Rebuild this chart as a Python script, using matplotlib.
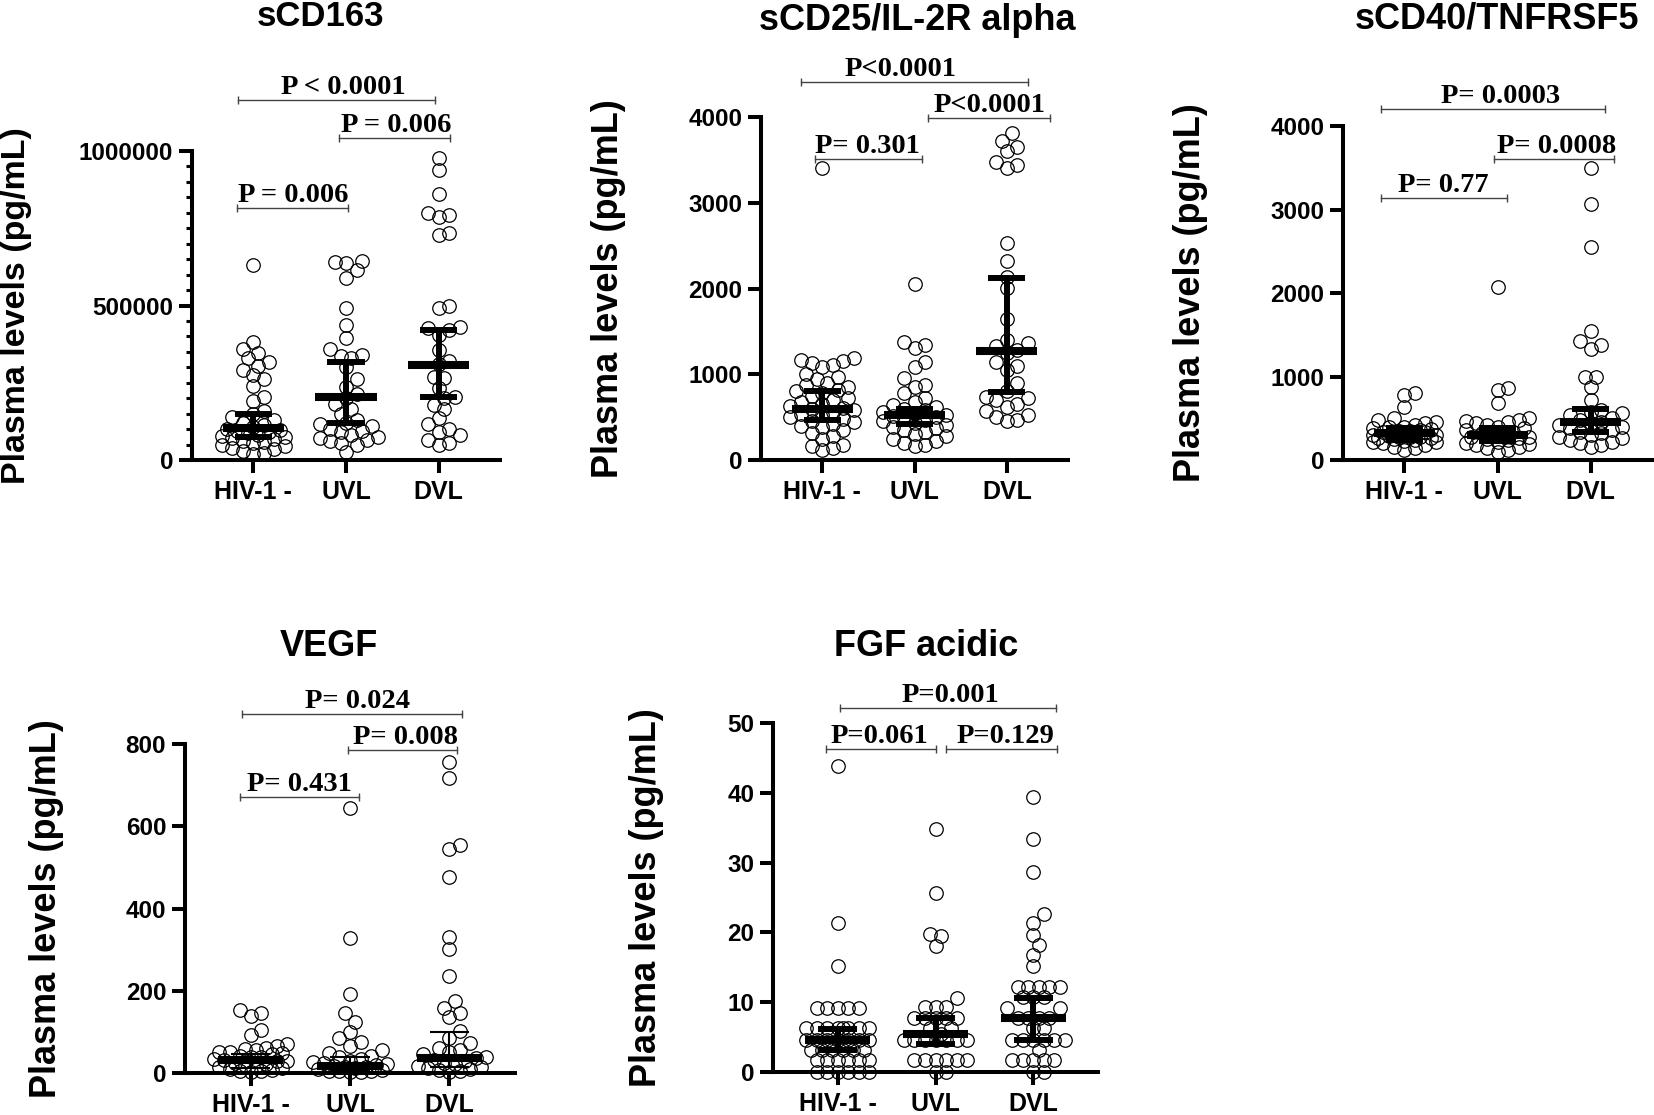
import numpy as np
import matplotlib
matplotlib.use('Agg')
import matplotlib.pyplot as plt

plt.rcParams['font.family'] = ['Liberation Sans', 'DejaVu Sans']

groups = ['HIV-1 -', 'UVL', 'DVL']

# ---- sCD163 ----
scd163_hiv = [631000, 382000, 360000, 345000, 330000, 318000, 305000, 290000, 275000, 262000,
              240000, 205000, 192000, 160000, 148000, 138000, 128000, 120000, 112000, 106000,
              101000, 97000, 93000, 90000, 86000, 82000, 79000, 75000, 71000, 67000, 63000,
              58000, 54000, 50000, 45000, 40000, 35000, 28000, 22000, 18000]
scd163_uvl = [645000, 640000, 636000, 615000, 590000, 492000, 437000, 395000, 360000, 340000,
              335000, 330000, 300000, 262000, 236000, 215000, 200000, 180000, 165000, 150000,
              130000, 120000, 115000, 110000, 100000, 95000, 90000, 82000, 75000, 70000, 65000,
              60000, 55000, 48000, 25000]
scd163_dvl = [977000, 939000, 861000, 800000, 793000, 787000, 735000, 728000, 500000, 492000,
              430000, 427000, 420000, 405000, 356000, 320000, 310000, 270000, 265000, 232000,
              205000, 200000, 178000, 165000, 135000, 115000, 100000, 90000, 82000, 65000,
              55000, 50000]
scd163_stats = [(105000, 75000, 150000), (204000, 120000, 317000), (307000, 204000, 421000)]

# ---- sCD25 / IL-2R alpha ----
scd25_hiv = [3405, 1190, 1170, 1150, 1130, 1110, 1080, 1000, 970, 940, 900, 870, 850, 820, 800,
             780, 750, 720, 700, 680, 650, 630, 610, 600, 580, 560, 540, 520, 500, 480, 460, 440,
             420, 400, 380, 350, 320, 280, 250, 180, 160, 140, 120]
scd25_uvl = [2052, 1377, 1340, 1306, 1143, 1080, 952, 880, 850, 780, 720, 680, 640, 620, 600,
             580, 560, 550, 530, 510, 500, 490, 470, 450, 430, 410, 390, 370, 350, 330, 300, 280,
             250, 220, 200, 180, 160]
scd25_dvl = [3810, 3720, 3650, 3600, 3480, 3440, 3400, 2533, 2320, 2137, 2004, 1650, 1400, 1361,
             1330, 1280, 1250, 1143, 1100, 1050, 895, 800, 740, 720, 700, 650, 621, 570, 525, 500,
             466, 450]
scd25_stats = [(595, 470, 805), (525, 420, 590), (1273, 796, 2120)]

# ---- sCD40 / TNFRSF5 ----
scd40_hiv = [800, 780, 640, 500, 480, 460, 440, 420, 400, 390, 380, 370, 360, 350, 350, 340, 330,
             330, 320, 310, 300, 300, 290, 280, 280, 270, 260, 260, 250, 240, 230, 220, 210, 200,
             180, 160, 140, 120]
scd40_uvl = [2068, 860, 838, 685, 500, 480, 470, 460, 440, 420, 400, 380, 360, 340, 320, 300, 290,
             280, 270, 260, 250, 240, 220, 200, 190, 180, 160, 140, 120, 100]
scd40_dvl = [3494, 3065, 2550, 1545, 1420, 1380, 1326, 1000, 996, 870, 718, 600, 580, 560, 540,
             500, 480, 460, 440, 420, 400, 380, 360, 340, 320, 300, 280, 260, 240, 220, 200, 180,
             160]
scd40_stats = [(319, 240, 380), (300, 230, 380), (455, 330, 608)]

# ---- VEGF ----
vegf_hiv = [153, 145, 139, 105, 92, 70, 66, 62, 58, 55, 52, 50, 48, 45, 42, 40, 38, 35, 32, 30,
            28, 25, 22, 20, 18, 15, 12, 10, 8, 6, 4, 3]
vegf_uvl = [644, 328, 192, 146, 124, 100, 85, 75, 65, 55, 48, 42, 38, 34, 30, 27, 24, 21, 19, 17,
            15, 14, 12, 10, 8, 6, 5, 4, 3, 2]
vegf_dvl = [756, 717, 555, 545, 477, 331, 302, 236, 175, 158, 145, 135, 102, 85, 72, 62, 55, 50,
            45, 40, 36, 32, 28, 25, 22, 18, 15, 12, 10, 8, 5, 3]
vegf_stats = [(31, 12, 45), (17, 5, 39), (36, 15, 100)]

# ---- FGF acidic ----
fgf_hiv = [43.8, 21.3, 15.2, 9.2, 9.2, 9.2, 9.2, 9.2, 6.3, 6.3, 6.3, 6.3, 6.3, 6.3, 6.3, 6.3,
           4.6, 4.6, 4.6, 4.6, 4.6, 4.6, 4.6, 3.2, 3.2, 3.2, 3.2, 3.2, 3.2, 1.7, 1.7, 1.7, 1.7,
           1.7, 1.7, 0, 0, 0, 0, 0, 0]
fgf_uvl = [34.8, 25.6, 19.7, 19.5, 18.1, 10.6, 9.3, 9.3, 9.3, 7.7, 7.7, 7.7, 7.7, 7.7, 6.3, 6.3,
           5.5, 4.6, 4.6, 4.6, 4.6, 4.6, 4.6, 4.6, 1.7, 1.7, 1.7, 1.7, 1.7, 1.7, 0, 0]
fgf_dvl = [39.4, 33.4, 28.7, 22.7, 21.4, 19.6, 18.2, 16.8, 15.2, 12.2, 12.2, 12.2, 12.2, 12.2,
           10.7, 10.7, 10.7, 9.1, 9.1, 7.8, 7.8, 7.8, 7.8, 6.3, 6.3, 4.6, 4.6, 4.6, 4.6, 4.6, 4.6,
           3.2, 1.7, 1.7, 1.7, 1.7, 1.7, 0, 0]
fgf_stats = [(4.6, 3.1, 6.2), (5.4, 4.0, 7.7), (7.7, 4.6, 10.6)]

# (x1, x2, y, label, text x)
scd163_p = [(0.83, 2.02, 815000, 'P = 0.006', 1.43), (1.92, 3.12, 1042000, 'P = 0.006', 2.54),
            (0.84, 2.96, 1165000, 'P < 0.0001', 1.97)]
scd25_p = [(0.92, 2.08, 3510, 'P= 0.301', 1.49), (2.15, 3.47, 3988, 'P<0.0001', 2.81),
           (0.77, 3.23, 4408, 'P<0.0001', 1.85)]
scd40_p = [(0.75, 2.10, 3138, 'P= 0.77', 1.42), (1.96, 3.25, 3605, 'P= 0.0008', 2.63),
           (0.75, 3.16, 4204, 'P= 0.0003', 2.03)]
vegf_p = [(0.89, 2.09, 671, 'P= 0.431', 1.49), (1.98, 3.08, 785, 'P= 0.008', 2.56),
          (0.91, 3.13, 873, 'P= 0.024', 2.08)]
fgf_p = [(0.88, 2.00, 46.3, 'P=0.061', 1.43), (2.11, 3.24, 46.3, 'P=0.129', 2.71),
         (1.02, 3.23, 52.1, 'P=0.001', 2.15)]

W, H = 1654, 1115
fig = plt.figure(figsize=(W / 100, H / 100), dpi=100)

MARK_PX = 13.5


def swarm_offsets(ax, vals):
    # simple beeswarm: push each point sideways until it no longer overlaps too much
    bb = ax.get_window_extent()
    x0, x1 = ax.get_xlim()
    y0, y1 = ax.get_ylim()
    pxx = bb.width / (x1 - x0)
    pxy = bb.height / (y1 - y0)
    d = MARK_PX * 0.78
    maxo = 0.38 * pxx
    cands = [0.0]
    k = 1
    while k * d / 2 <= maxo:
        cands += [k * d / 2, -k * d / 2]
        k += 1
    vals = np.asarray(vals, dtype=float)
    offs = np.zeros(len(vals))
    placed = []
    for i in np.argsort(vals):
        yp = vals[i] * pxy
        best, best_md = None, -1
        for c in cands:
            if not placed:
                best = c
                break
            md = min(np.hypot(c - px, yp - py) for px, py in placed)
            if md >= d:
                best = c
                break
            if md > best_md:
                best_md, best_c = md, c
        if best is None:
            best = best_c
        placed.append((best, yp))
        offs[i] = best / pxx
    return offs


panels = [
    dict(title='sCD163', data=[scd163_hiv, scd163_uvl, scd163_dvl], stats=scd163_stats,
         pv=scd163_p, ticks=[0, 500000, 1000000], minor=50000,
         box=(192, 500, 460, 151), title_xy=(320, 16), tsize=25, ylab_x=17, ysize=24.5, elw=4.3),
    dict(title='sCD25/IL-2R alpha', data=[scd25_hiv, scd25_uvl, scd25_dvl], stats=scd25_stats,
         pv=scd25_p, ticks=[0, 1000, 2000, 3000, 4000], minor=None,
         box=(761, 1068, 460, 117), title_xy=(917, 20), tsize=26, ylab_x=608, ysize=26, elw=4.3),
    dict(title='sCD40/TNFRSF5', data=[scd40_hiv, scd40_uvl, scd40_dvl], stats=scd40_stats,
         pv=scd40_p, ticks=[0, 1000, 2000, 3000, 4000], minor=None,
         box=(1343, 1652, 460, 126), title_xy=(1497, 19), tsize=26, ylab_x=1190, ysize=26, elw=4.3),
    dict(title='VEGF', data=[vegf_hiv, vegf_uvl, vegf_dvl], stats=vegf_stats,
         pv=vegf_p, ticks=[0, 200, 400, 600, 800], minor=None,
         box=(185, 515, 1073, 744), title_xy=(329, 647), tsize=26, ylab_x=47, ysize=26, elw=1.5),
    dict(title='FGF acidic', data=[fgf_hiv, fgf_uvl, fgf_dvl], stats=fgf_stats,
         pv=fgf_p, ticks=[0, 10, 20, 30, 40, 50], minor=None,
         box=(773, 1098, 1072, 723), title_xy=(926, 647), tsize=26, ylab_x=647, ysize=26, elw=4.3),
]

for p in panels:
    l, r, yb, yt = p['box']
    ax = fig.add_axes([l / W, 1 - yb / H, (r - l) / W, (yb - yt) / H])
    ax.set_xlim(0.34, 3.66)
    ax.set_ylim(0, p['ticks'][-1])
    for s in ['top', 'right']:
        ax.spines[s].set_visible(False)
    for s in ['left', 'bottom']:
        ax.spines[s].set_linewidth(2.9)
    ax.set_xticks([1, 2, 3], labels=groups)
    ax.set_yticks(p['ticks'], labels=[str(t) for t in p['ticks']])
    if p['minor']:
        ax.set_yticks(np.arange(0, p['ticks'][-1] + 1, p['minor']), minor=True)
        ax.tick_params(axis='y', which='minor', length=4, width=2.2)
    ax.tick_params(axis='both', which='major', length=9.5, width=2.9)
    ax.tick_params(axis='x', pad=5, labelsize=18)
    ax.tick_params(axis='y', pad=4, labelsize=17.5)
    for lab in ax.get_xticklabels() + ax.get_yticklabels():
        lab.set_fontweight('bold')

    for i, vals in enumerate(p['data']):
        xo = swarm_offsets(ax, vals)
        ax.plot(i + 1 + xo, vals, 'o', ms=MARK_PX * 0.72, mfc='none', mec='black',
                mew=0.9, clip_on=False, zorder=3)
    for i, (med, q1, q3) in enumerate(p['stats']):
        x = i + 1
        ax.plot([x - 0.33, x + 0.33], [med, med], color='black', lw=5.8,
                solid_capstyle='butt', zorder=5)
        ax.plot([x, x], [q1, q3], color='black', lw=p['elw'], solid_capstyle='butt', zorder=5)
        for q in (q1, q3):
            ax.plot([x - 0.2, x + 0.2], [q, q], color='black', lw=p['elw'],
                    solid_capstyle='butt', zorder=5)

    for x1, x2, y, lab, xt in p['pv']:
        ax.plot([x1, x2], [y, y], color='#444444', lw=1.0, marker='|', ms=6, mew=1.0,
                clip_on=False)
        ax.text(xt, y, lab, ha='center', va='bottom', fontsize=20.5, fontweight='bold',
                family=['Liberation Serif', 'DejaVu Serif'], clip_on=False)

    tx, ty = p['title_xy']
    fig.text(tx / W, 1 - ty / H, p['title'], ha='center', va='center',
             fontsize=p['tsize'], fontweight='bold')
    fig.text(p['ylab_x'] / W, 1 - (yb + yt) / 2 / H, 'Plasma levels (pg/mL)', rotation=90,
             ha='center', va='center', fontsize=p['ysize'], fontweight='bold')

fig.savefig('out.png', dpi=100, facecolor='white')
